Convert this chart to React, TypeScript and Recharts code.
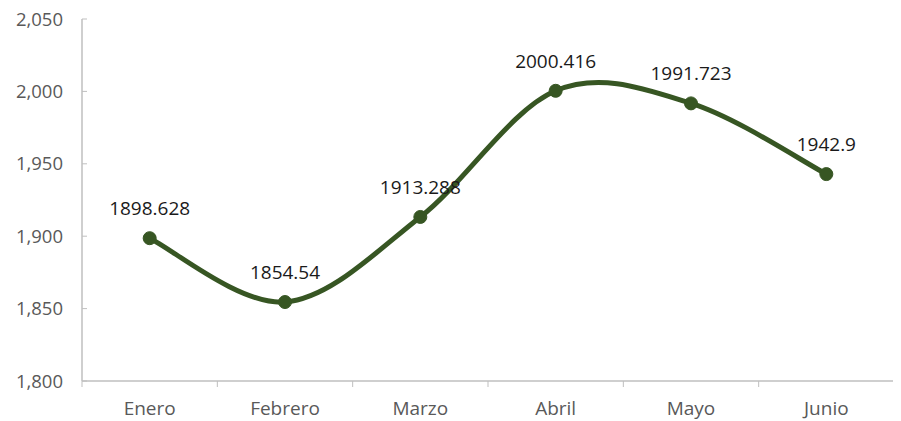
import { LineChart, Line, XAxis, YAxis, LabelList } from 'recharts';

const months = ['Enero', 'Febrero', 'Marzo', 'Abril', 'Mayo', 'Junio'];
const values = [1898.628, 1854.54, 1913.288, 2000.416, 1991.723, 1942.9];
const yTicks = [1800, 1850, 1900, 1950, 2000, 2050];

const data = months.map((month, i) => ({ month, value: values[i] }));

const CHART_W = 893;
const CHART_H = 421;
const Y_AXIS_W = 74;
const PLOT_H = 362;
const MARGIN = { top: 19, right: 7, bottom: 0, left: 0 };
const step = (CHART_W - Y_AXIS_W - MARGIN.right) / months.length;

const FONT = '"Open Sans", sans-serif';
const AXIS_COLOR = '#bfbfbf';
const LINE_COLOR = '#375623';

// Excel-like smoothed line (Catmull-Rom through the points)
function smoothCurve(context: any) {
  let pts: number[][] = [];
  return {
    areaStart() {},
    areaEnd() {},
    lineStart() {
      pts = [];
    },
    point(x: number, y: number) {
      pts.push([+x, +y]);
    },
    lineEnd() {
      if (!pts.length) return;
      context.moveTo(pts[0][0], pts[0][1]);
      for (let i = 0; i < pts.length - 1; i++) {
        const p0 = pts[i - 1] || pts[i];
        const p1 = pts[i];
        const p2 = pts[i + 1];
        const p3 = pts[i + 2] || pts[i + 1];
        context.bezierCurveTo(
          p1[0] + (p2[0] - p0[0]) / 6,
          p1[1] + (p2[1] - p0[1]) / 6,
          p2[0] - (p3[0] - p1[0]) / 6,
          p2[1] - (p3[1] - p1[1]) / 6,
          p2[0],
          p2[1],
        );
      }
    },
  };
}

const XTick = (props: any) => {
  const { x, y, payload, index } = props;
  const last = index === months.length - 1;
  return (
    <g>
      <line x1={x - step / 2} y1={y} x2={x - step / 2} y2={y + 6} stroke={AXIS_COLOR} />
      {last && <line x1={x + step / 2} y1={y} x2={x + step / 2} y2={y + 6} stroke={AXIS_COLOR} />}
      <text x={x} y={y + 34} textAnchor="middle" fill="#595959" fontSize={19} fontFamily={FONT}>
        {payload.value}
      </text>
    </g>
  );
};

const YTick = (props: any) => {
  const { x, y, payload } = props;
  return (
    <g>
      <line x1={x} y1={y} x2={x + 5} y2={y} stroke={AXIS_COLOR} />
      <text x={x - 19} y={y + 6.5} textAnchor="end" fill="#595959" fontSize={18.5} fontFamily={FONT}>
        {payload.value.toLocaleString('en-US')}
      </text>
    </g>
  );
};

export default function App() {
  return (
    <div style={{ width: CHART_W, height: CHART_H, marginTop: -8 }}>
      <LineChart width={CHART_W} height={CHART_H} data={data} margin={MARGIN}>
        <XAxis
          dataKey="month"
          scale="band"
          height={CHART_H - MARGIN.top - PLOT_H}
          tickLine={false}
          tickSize={0}
          tickMargin={0}
          stroke={AXIS_COLOR}
          strokeWidth={1.5}
          tick={<XTick />}
          interval={0}
        />
        <YAxis
          domain={[1800, 2050]}
          ticks={yTicks}
          width={Y_AXIS_W}
          tickLine={false}
          tickSize={0}
          tickMargin={0}
          stroke={AXIS_COLOR}
          strokeWidth={1.5}
          tick={<YTick />}
          allowDataOverflow
        />
        <Line
          dataKey="value"
          type={smoothCurve as any}
          stroke={LINE_COLOR}
          strokeWidth={5}
          dot={{ r: 6.5, fill: LINE_COLOR, stroke: LINE_COLOR, strokeWidth: 1 }}
          activeDot={false}
          isAnimationActive={false}
        >
          <LabelList dataKey="value" position="top" offset={23} fill="#1a1a1a" fontSize={19} fontFamily={FONT} />
        </Line>
      </LineChart>
    </div>
  );
}
